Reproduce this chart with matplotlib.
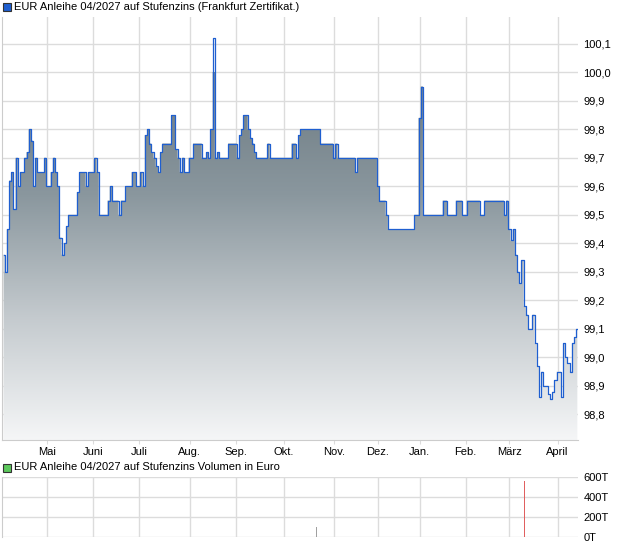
import numpy as np
import pandas as pd
import matplotlib
matplotlib.use("Agg")
import matplotlib.pyplot as plt
from matplotlib.colors import LinearSegmentedColormap
from matplotlib.patches import Rectangle

plt.rcParams['font.family'] = ['Liberation Sans', 'DejaVu Sans']

# daily closing prices (trading days, 01.04.2025 - 16.04.2026)
price = [
    99.36, 99.30, 99.45, 99.62, 99.65, 99.52, 99.70, 99.60, 99.65, 99.65,
    99.70, 99.72, 99.80, 99.76, 99.60, 99.70, 99.65, 99.65, 99.65, 99.70,
    99.60, 99.60, 99.65, 99.70, 99.65, 99.60, 99.42, 99.36, 99.40, 99.46,
    99.50, 99.50, 99.50, 99.50, 99.58, 99.65, 99.65, 99.65, 99.60, 99.65,
    99.65, 99.65, 99.70, 99.65, 99.50, 99.50, 99.50, 99.50, 99.55, 99.60,
    99.55, 99.55, 99.55, 99.50, 99.55, 99.55, 99.60, 99.60, 99.60, 99.65,
    99.65, 99.60, 99.60, 99.65, 99.60, 99.78, 99.80, 99.75, 99.72, 99.70,
    99.67, 99.65, 99.72, 99.75, 99.75, 99.75, 99.75, 99.85, 99.85, 99.73,
    99.70, 99.65, 99.70, 99.65, 99.65, 99.70, 99.70, 99.75, 99.75, 99.75,
    99.75, 99.70, 99.70, 99.72, 99.70, 99.80, 100.12, 99.70, 99.72, 99.70,
    99.70, 99.70, 99.70, 99.75, 99.75, 99.75, 99.75, 99.70, 99.78, 99.80,
    99.85, 99.85, 99.80, 99.77, 99.75, 99.72, 99.70, 99.70, 99.70, 99.70,
    99.70, 99.75, 99.70, 99.70, 99.70, 99.70, 99.70, 99.70, 99.70, 99.70,
    99.70, 99.70, 99.75, 99.75, 99.70, 99.78, 99.80, 99.80, 99.80, 99.80,
    99.80, 99.80, 99.80, 99.80, 99.80, 99.75, 99.75, 99.75, 99.75, 99.75,
    99.75, 99.70, 99.75, 99.70, 99.70, 99.70, 99.70, 99.70, 99.70, 99.70,
    99.70, 99.65, 99.70, 99.70, 99.70, 99.70, 99.70, 99.70, 99.70, 99.70,
    99.70, 99.60, 99.55, 99.55, 99.55, 99.50, 99.45, 99.45, 99.45, 99.45,
    99.45, 99.45, 99.45, 99.45, 99.45, 99.45, 99.45, 99.45, 99.50, 99.50,
    99.84, 99.95, 99.50, 99.50, 99.50, 99.50, 99.50, 99.50, 99.50, 99.50,
    99.50, 99.55, 99.55, 99.50, 99.50, 99.50, 99.50, 99.55, 99.55, 99.55,
    99.50, 99.50, 99.55, 99.55, 99.55, 99.55, 99.55, 99.55, 99.50, 99.50,
    99.55, 99.55, 99.55, 99.55, 99.55, 99.55, 99.55, 99.55, 99.55, 99.50,
    99.55, 99.45, 99.41, 99.45, 99.36, 99.30, 99.26, 99.34, 99.18, 99.15,
    99.10, 99.10, 99.15, 99.05, 98.97, 98.86, 98.95, 98.90, 98.90, 98.87,
    98.855, 98.88, 98.92, 98.95, 98.95, 98.86, 99.05, 99.00, 98.98, 98.95,
    99.05, 99.07, 99.10,
]

# turnover in euro (only days with trades)
vol_day = [143, 179, 238]
vol_eur = [100000, 5000, 560000]
vol_col = ['#a0a0a0', '#a0a0a0', '#e06060']

holidays = ['2025-04-18', '2025-04-21', '2025-05-01', '2025-12-24', '2025-12-25',
            '2025-12-26', '2025-12-31', '2026-01-01', '2026-04-03', '2026-04-06']
dates = pd.bdate_range('2025-04-01', '2026-04-16')
dates = dates[~dates.isin(pd.to_datetime(holidays))]

month_names = ['Mai', 'Juni', 'Juli', 'Aug.', 'Sep.', 'Okt.', 'Nov.', 'Dez.',
               'Jan.', 'Feb.', 'März', 'April']
y_ticks = [98.8, 98.9, 99.0, 99.1, 99.2, 99.3, 99.4, 99.5, 99.6, 99.7, 99.8, 99.9, 100.0, 100.1]
vol_ticks = [0, 200000, 400000, 600000]

x = np.arange(len(price))
month_pos = [i for i in range(1, len(dates)) if dates[i].month != dates[i - 1].month]

grid_c = '#dcdcdc'
line_c = '#1f5fd0'
fs = 8

fig = plt.figure(figsize=(6.2, 5.46), dpi=100)

# price panel
ax = fig.add_axes([2 / 620, 106 / 546, 576 / 620, 423 / 546])
ax.set_xlim(-0.7, 262.3)
ax.set_ylim(98.71, 100.194)

poly = ax.fill_between(x, price, 98.71, step='mid', color='none', lw=0)
cmap = LinearSegmentedColormap.from_list('g', ['#f5f6f7', '#c4cace', '#8a979e', '#6c7a82'])
grad = np.linspace(0, 1, 256).reshape(-1, 1)
img = ax.imshow(grad, cmap=cmap, origin='lower', aspect='auto',
                extent=[-0.7, 262.3, 98.71, 100.0], zorder=1)
img.set_clip_path(poly.get_paths()[0], transform=ax.transData)
ax.plot(x, price, drawstyle='steps-mid', color=line_c, lw=0.9, zorder=3)

ax.set_xticks(month_pos)
ax.set_xticklabels(month_names, fontsize=fs)
ax.set_yticks(y_ticks)
ax.set_yticklabels([f'{v:.1f}'.replace('.', ',') for v in y_ticks], fontsize=fs)
ax.yaxis.tick_right()
ax.tick_params(axis='y', length=0, pad=4)
ax.tick_params(axis='x', length=3, color=grid_c, pad=2)
ax.grid(True, color=grid_c, lw=1, zorder=0)
ax.set_axisbelow(True)
for s in ['top', 'right']:
    ax.spines[s].set_visible(False)
for s in ['left', 'bottom']:
    ax.spines[s].set_color('#cccccc')

fig.patches.append(Rectangle((3 / 620, 1 - 10.5 / 546), 8 / 620, 8 / 546, transform=fig.transFigure,
                             facecolor='#1f5fd0', edgecolor='#333333', lw=0.8))
fig.text(14 / 620, 1 - 6.5 / 546, 'EUR Anleihe 04/2027 auf Stufenzins (Frankfurt Zertifikat.)',
         fontsize=fs, va='center', ha='left')

# volume panel
av = fig.add_axes([2 / 620, 9 / 546, 576 / 620, 60 / 546])
av.set_xlim(-0.7, 262.3)
av.set_ylim(0, 600000)
av.bar(vol_day, vol_eur, width=0.5, color=vol_col, zorder=3)
av.set_xticks(month_pos)
av.set_xticklabels([])
av.set_yticks(vol_ticks)
av.set_yticklabels([f'{v // 1000}T' for v in vol_ticks], fontsize=fs)
av.yaxis.tick_right()
av.tick_params(axis='both', length=0, pad=4)
av.grid(True, color=grid_c, lw=1, zorder=0)
av.set_axisbelow(True)
for s in ['top', 'right', 'bottom']:
    av.spines[s].set_visible(False)
av.spines['left'].set_color('#cccccc')

fig.patches.append(Rectangle((3 / 620, 1 - 471.5 / 546), 8 / 620, 8 / 546, transform=fig.transFigure,
                             facecolor='#5cc85c', edgecolor='#333333', lw=0.8))
fig.text(14 / 620, 1 - 467.5 / 546, 'EUR Anleihe 04/2027 auf Stufenzins Volumen in Euro',
         fontsize=fs, va='center', ha='left')

fig.savefig('out.png', dpi=100)
